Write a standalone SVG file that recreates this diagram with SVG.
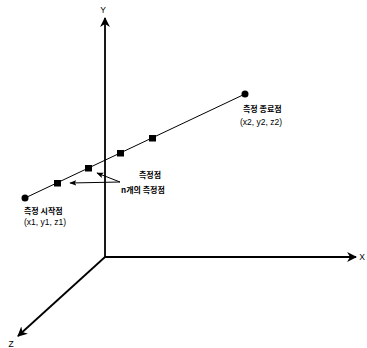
<svg xmlns="http://www.w3.org/2000/svg" width="367" height="348" viewBox="0 0 367 348">
<style>
.ax{stroke:#000;stroke-width:1.8;fill:none}
.ln{stroke:#000;stroke-width:1;fill:none}
.t{font-family:"Liberation Sans","Noto Sans CJK KR",sans-serif;font-size:8.5px;fill:#000}
.k{font-family:"Noto Sans CJK KR","Liberation Sans",sans-serif;font-size:8px;font-weight:bold;fill:#000}
</style>
<defs>
<marker id="ah" viewBox="0 0 10 10" refX="9" refY="5" markerWidth="5.5" markerHeight="5.5" orient="auto" markerUnits="strokeWidth"><path d="M0,0 L10,5 L0,10 L3,5 z" fill="#000"/></marker>
<marker id="sa" viewBox="0 0 10 10" refX="9" refY="5" markerWidth="7" markerHeight="7" orient="auto" markerUnits="strokeWidth"><path d="M0,1 L10,5 L0,9 L2,5 z" fill="#000"/></marker>
</defs>
<g id="connectors">
<path class="ax" d="M105,257 L105,18" marker-end="url(#ah)"/>
<path class="ax" d="M105,257 L356,257" marker-end="url(#ah)"/>
<path class="ax" d="M105,257 L18,336" marker-end="url(#ah)"/>
<path class="ln" d="M25,198 L245,94"/>
<path class="ln" d="M120,182 L70,183" marker-end="url(#sa)"/>
<path class="ln" d="M120,182 L97,173" marker-end="url(#sa)"/>
</g>
<g id="axis-labels">
<text class="t" x="103" y="13" text-anchor="middle">Y</text>
<text class="t" x="362" y="260" text-anchor="middle">X</text>
<text class="t" x="11" y="347" text-anchor="middle">Z</text>
</g>
<g id="start">
<circle cx="25" cy="198" r="3.5" fill="#000"/>
<text class="k" x="24" y="214">측정 시작점</text>
<text class="t" x="24" y="225">(x1, y1, z1)</text>
</g>
<g id="end">
<circle cx="245" cy="94" r="3.5" fill="#000"/>
<text class="k" x="243" y="112">측정 종료점</text>
<text class="t" x="240" y="125">(x2, y2, z2)</text>
</g>
<g id="points">
<rect x="54" y="180" width="7" height="6.5" fill="#000"/>
<rect x="85" y="165" width="7" height="6.5" fill="#000"/>
<rect x="117" y="150" width="7" height="6.5" fill="#000"/>
<rect x="149" y="135" width="7" height="6.5" fill="#000"/>
</g>
<g id="label-points">
<text class="k" x="139" y="178">측정점</text>
<text class="k" x="121" y="193">n개의 측정점</text>
</g>
</svg>
